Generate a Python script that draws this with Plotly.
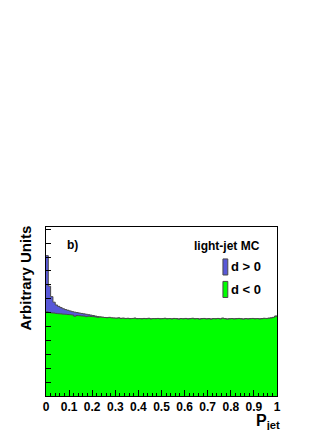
"""
Distribución de P_jet para light-jet MC, d > 0 y d < 0
"""

import numpy as np
import plotly.graph_objects as go

# bordes de los bins (100 bins de 0.01)
bordes = np.round(np.linspace(0, 1, 101), 2)

# d > 0 (azul)
d_pos = [
    1.010, 0.790, 0.715, 0.675, 0.655, 0.645, 0.636, 0.628, 0.622, 0.617,
    0.612, 0.607, 0.603, 0.600, 0.597, 0.594, 0.591, 0.588, 0.585, 0.582,
    0.579, 0.575, 0.571, 0.569, 0.566, 0.564, 0.563, 0.562, 0.561, 0.560,
    0.559, 0.561, 0.559, 0.559, 0.558, 0.558, 0.557, 0.557, 0.559, 0.557,
    0.556, 0.556, 0.557, 0.557, 0.558, 0.555, 0.556, 0.557, 0.557, 0.556,
    0.557, 0.558, 0.556, 0.556, 0.555, 0.557, 0.557, 0.554, 0.556, 0.556,
    0.557, 0.555, 0.557, 0.558, 0.556, 0.556, 0.554, 0.557, 0.557, 0.555,
    0.557, 0.554, 0.556, 0.556, 0.557, 0.555, 0.559, 0.557, 0.554, 0.556,
    0.556, 0.555, 0.557, 0.557, 0.556, 0.554, 0.556, 0.555, 0.557, 0.557,
    0.556, 0.556, 0.555, 0.557, 0.558, 0.558, 0.559, 0.562, 0.565, 0.575,
]

# d < 0 (verde)
d_neg = [
    0.606, 0.601, 0.598, 0.597, 0.594, 0.592, 0.591, 0.589, 0.588, 0.586,
    0.585, 0.583, 0.574, 0.579, 0.578, 0.576, 0.575, 0.571, 0.574, 0.572,
    0.571, 0.569, 0.566, 0.568, 0.567, 0.565, 0.563, 0.566, 0.562, 0.561,
    0.560, 0.562, 0.558, 0.560, 0.557, 0.559, 0.556, 0.558, 0.560, 0.556,
    0.557, 0.555, 0.558, 0.556, 0.559, 0.554, 0.557, 0.556, 0.558, 0.555,
    0.556, 0.559, 0.555, 0.557, 0.554, 0.558, 0.556, 0.553, 0.557, 0.555,
    0.558, 0.554, 0.556, 0.559, 0.555, 0.557, 0.553, 0.556, 0.558, 0.554,
    0.556, 0.553, 0.557, 0.555, 0.558, 0.554, 0.560, 0.556, 0.553, 0.555,
    0.557, 0.554, 0.556, 0.558, 0.555, 0.553, 0.557, 0.554, 0.556, 0.558,
    0.555, 0.557, 0.554, 0.556, 0.559, 0.557, 0.560, 0.561, 0.566, 0.574,
]

etiquetas_x = ['0', '0.1', '0.2', '0.3', '0.4', '0.5', '0.6', '0.7', '0.8', '0.9', '1']

AZUL = '#5858d8'
VERDE = '#00ff00'
FUENTE = 'Liberation Sans, Arial, sans-serif'

fig = go.Figure()

for valores, color in [(d_pos, AZUL), (d_neg, VERDE)]:
    fig.add_trace(go.Scatter(
        x=bordes,
        y=list(valores) + [valores[-1]],
        mode='lines',
        line=dict(shape='hv', color='#4a4a4a', width=1),
        fill='tozeroy',
        fillcolor=color,
        showlegend=False,
        hoverinfo='skip'
    ))

# la página añade 8 px de margen al body: se compensa aquí
fig.update_layout(
    width=332, height=430,
    margin=dict(l=38, r=63, t=219, b=42),
    paper_bgcolor='white',
    plot_bgcolor='white',
    font=dict(family=FUENTE, color='black'),
    xaxis=dict(
        range=[0, 1],
        tickvals=[float(v) for v in etiquetas_x],
        ticktext=etiquetas_x,
        ticks='inside', ticklen=6, tickcolor='black',
        tickfont=dict(size=12, weight='bold'),
        minor=dict(dtick=0.02, ticks='inside', ticklen=3, tickcolor='black'),
        showgrid=False, zeroline=False,
        showline=True, linecolor='black', linewidth=1, mirror=True,
    ),
    yaxis=dict(
        range=[0, 1.216],
        dtick=0.1,
        showticklabels=False,
        ticks='inside', ticklen=5, tickcolor='black',
        showgrid=False, zeroline=False,
        showline=True, linecolor='black', linewidth=1, mirror=True,
    ),
)

# títulos de ejes
fig.add_annotation(
    xref='paper', yref='paper', x=-0.087, y=0.70,
    text='Arbitrary Units', textangle=-90, showarrow=False,
    xanchor='center', yanchor='middle',
    font=dict(size=15, weight='bold')
)
fig.add_annotation(
    xref='paper', yref='paper', x=1.02, y=-0.08,
    text='P<sub>jet</sub>', showarrow=False,
    xanchor='right', yanchor='top',
    font=dict(size=16, weight='bold')
)

# textos dentro del gráfico
fig.add_annotation(
    xref='paper', yref='paper', x=0.082, y=0.893,
    text='b)', showarrow=False, xanchor='left', yanchor='middle',
    font=dict(size=12, weight='bold')
)
fig.add_annotation(
    xref='paper', yref='paper', x=0.935, y=0.888,
    text='light-jet MC', showarrow=False, xanchor='right', yanchor='middle',
    font=dict(size=12, weight='bold')
)

# leyenda manual
for color, texto, y0, y1 in [(AZUL, 'd > 0', 0.716, 0.811), (VERDE, 'd < 0', 0.583, 0.678)]:
    fig.add_shape(
        type='rect', xref='paper', yref='paper',
        x0=0.766, x1=0.787, y0=y0, y1=y1,
        fillcolor=color, line=dict(color='#4a4a4a', width=1)
    )
    fig.add_annotation(
        xref='paper', yref='paper', x=0.792, y=(y0 + y1) / 2,
        text=texto, showarrow=False, xanchor='left', yanchor='middle',
        font=dict(size=13, weight='bold')
    )

fig.write_html("out.html")
